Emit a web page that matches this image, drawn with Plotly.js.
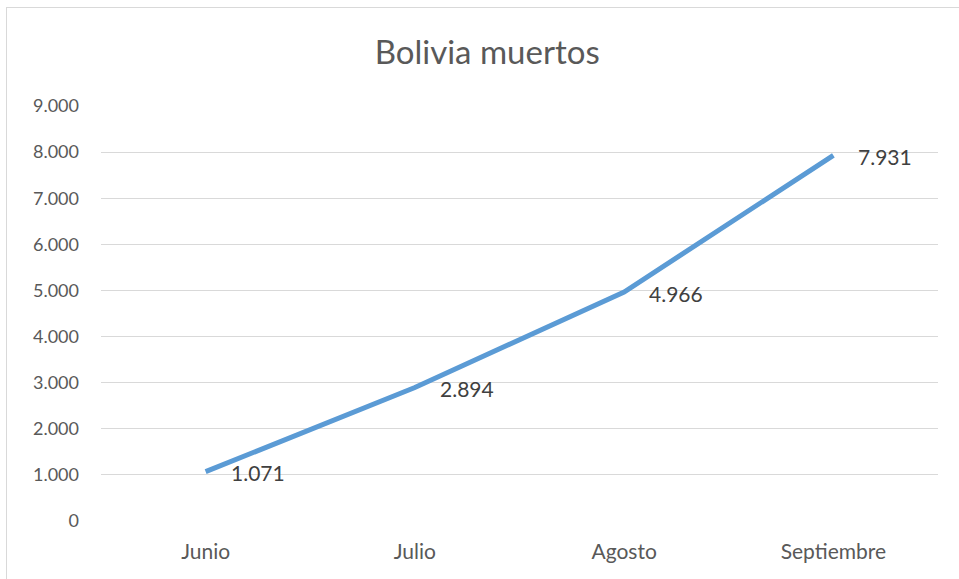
<!DOCTYPE html>
<html>
<head>
<meta charset="utf-8">
<script src="https://cdn.plot.ly/plotly-3.0.1.min.js"></script>
<style>
  html, body { margin: 0; padding: 0; background: #fff; overflow: hidden; }
  #chart { position: absolute; left: 0; top: 0; width: 959px; height: 579px; }
  #frame { position: absolute; left: 6px; top: 7px; width: 1000px; height: 1000px;
           border: 1px solid #d9d9d9; pointer-events: none; box-sizing: border-box; }
</style>
</head>
<body>
<div id="chart"></div>
<div id="frame"></div>
<script>
const months = ["Junio", "Julio", "Agosto", "Septiembre"];
const deaths = [1071, 2894, 4966, 7931];
const yTicks = [0, 1000, 2000, 3000, 4000, 5000, 6000, 7000, 8000, 9000];

function fmt(v) {
  return String(v).replace(/\B(?=(\d{3})+(?!\d))/g, ".");
}

const trace = {
  type: "scatter",
  mode: "lines",
  x: months,
  y: deaths,
  line: { color: "#5B9BD5", width: 5 },
  hoverinfo: "skip"
};

const annotations = months.map((m, i) => ({
  x: m, y: deaths[i], xref: "x", yref: "y",
  text: fmt(deaths[i]), showarrow: false,
  xanchor: "left", yanchor: "middle", xshift: 23, yshift: -1,
  font: { family: "Lato, 'Open Sans', sans-serif", size: 21, color: "#404040" }
}));

const layout = {
  width: 959, height: 579,
  margin: { l: 101, r: 21, t: 106, b: 58 },
  paper_bgcolor: "#ffffff", plot_bgcolor: "#ffffff",
  separators: ",.",
  showlegend: false,
  title: {
    text: "Bolivia muertos",
    x: 0.508, xref: "container", xanchor: "center",
    y: 0.91, yref: "container", yanchor: "middle",
    font: { family: "Lato, 'Open Sans', sans-serif", size: 33, color: "#595959" }
  },
  xaxis: {
    type: "category",
    range: [-0.5, 3.5],
    showgrid: false, zeroline: false, showline: false,
    ticks: "", ticklabelstandoff: 16,
    tickfont: { family: "Lato, 'Open Sans', sans-serif", size: 21, color: "#595959" }
  },
  yaxis: {
    range: [0, 9000],
    tickvals: yTicks,
    ticktext: yTicks.map(fmt),
    showgrid: true, gridcolor: "#d9d9d9", gridwidth: 1,
    zeroline: false, showline: false, ticks: "",
    ticklabelstandoff: 21,
    tickfont: { family: "Lato, 'Open Sans', sans-serif", size: 18, color: "#595959" }
  },
  annotations: annotations
};

Plotly.newPlot("chart", [trace], layout, { displayModeBar: false, staticPlot: true });
</script>
</body>
</html>
